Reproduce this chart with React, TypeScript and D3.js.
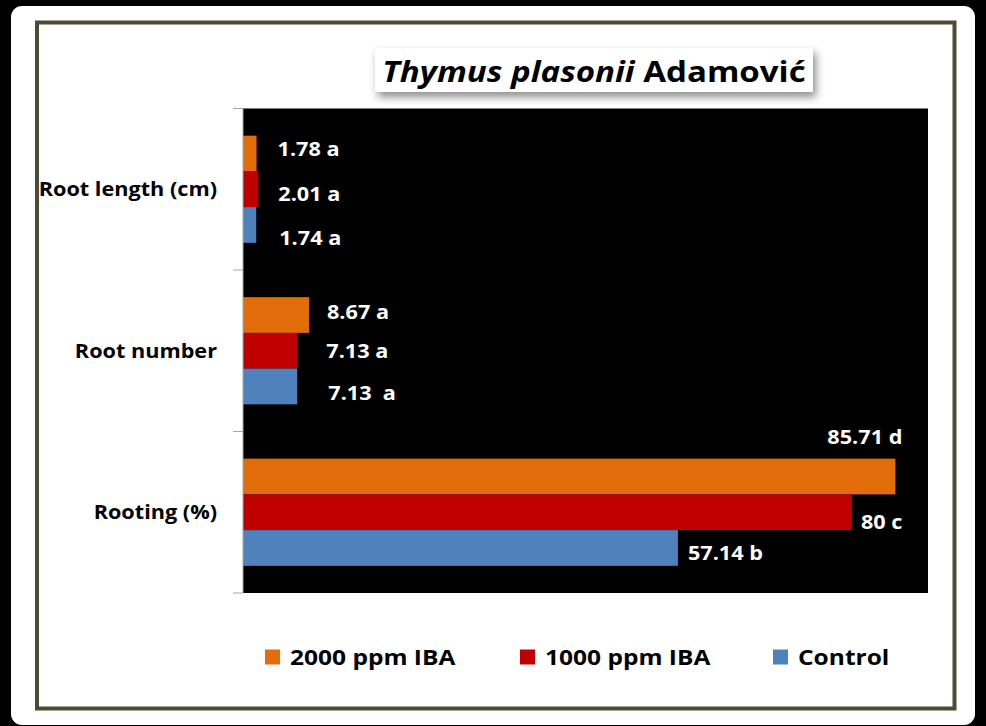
import React from "react";
import * as d3 from "d3";

// Chart content
const categories = ["Root length (cm)", "Root number", "Rooting (%)"];
const seriesNames = ["2000 ppm IBA", "1000 ppm IBA", "Control"];
const iba2000 = [1.78, 8.67, 85.71];
const iba1000 = [2.01, 7.13, 80];
const control = [1.74, 7.13, 57.14];
const letters2000 = ["a", "a", "d"];
const letters1000 = ["a", "a", "c"];
const lettersControl = ["a", " a", "b"];
const xDomain = [0, 90];

const seriesColors = ["#E36C0A", "#C00000", "#4F81BD"];

// Hand-placed label offsets [dx from bar end, dy from bar centre], per series per category
const labelNudge2000 = [[21, -4], [18, -3], [-68, -39]];
const labelNudge1000 = [[20, 5], [29, 0], [9, 10]];
const labelNudgeControl = [[23, 13], [31, 7], [10, 5]];

const W = 986;
const H = 726;
const FONT = "'Open Sans', 'DejaVu Sans', sans-serif";
const STRETCH = 1.14;

type TProps = {
  x: number;
  y: number;
  size: number;
  anchor?: "start" | "middle" | "end";
  fill?: string;
  children: React.ReactNode;
};

// Bold text with a slight horizontal stretch; y is the vertical centre of the caps
function SText({ x, y, size, anchor = "start", fill = "#000", children }: TProps) {
  return (
    <text
      transform={`translate(${x},${y + size * 0.357}) scale(${STRETCH},1)`}
      fontFamily={FONT}
      fontWeight={700}
      fontSize={size}
      textAnchor={anchor}
      fill={fill}
      style={{ whiteSpace: "pre" }}
    >
      {children}
    </text>
  );
}

export default function App() {
  const plot = { left: 243, right: 928, top: 108.5, bottom: 593 };

  const x = d3.scaleLinear().domain(xDomain).range([plot.left, plot.right]);
  const yCat = d3
    .scaleBand<string>()
    .domain(categories)
    .range([plot.top, plot.bottom])
    .paddingInner(0)
    .paddingOuter(0);
  const ySeries = d3
    .scaleBand<string>()
    .domain(seriesNames)
    .range([0, yCat.bandwidth()])
    .paddingInner(0)
    .paddingOuter(0.76);

  const values = [iba2000, iba1000, control];
  const letters = [letters2000, letters1000, lettersControl];
  const nudges = [labelNudge2000, labelNudge1000, labelNudgeControl];

  const tickYs = [...categories.map((c) => yCat(c) as number), plot.bottom];

  const legendX = [265, 520, 773];
  const legendY = 657;

  return (
    <svg
      width={W}
      height={H}
      viewBox={`0 0 ${W} ${H}`}
      style={{ position: "absolute", left: 0, top: 0, display: "block" }}
    >
      <defs>
        <filter id="titleShadow" x="-10%" y="-40%" width="125%" height="200%">
          <feDropShadow dx="3" dy="5" stdDeviation="4" floodColor="#000" floodOpacity="0.45" />
        </filter>
      </defs>

      {/* frame */}
      <rect x={0} y={0} width={W} height={H} fill="#000" />
      <rect x={11} y={6} width={964} height={719} rx={11} fill="#fff" />
      <rect x={37} y={22.5} width={917.5} height={686} fill="none" stroke="#4e4a36" strokeWidth={4} />

      {/* title */}
      <rect x={375} y={48} width={438} height={44} fill="#fff" filter="url(#titleShadow)" />
      <text
        transform={`translate(594,82) scale(${STRETCH},1)`}
        fontFamily={FONT}
        fontWeight={700}
        fontSize={29}
        textAnchor="middle"
        fill="#000"
      >
        <tspan fontStyle="italic">Thymus plasonii</tspan>
        <tspan> Adamović</tspan>
      </text>

      {/* plot area */}
      <rect
        x={plot.left}
        y={plot.top}
        width={plot.right - plot.left}
        height={plot.bottom - plot.top}
        fill="#000"
      />

      {/* bars */}
      {seriesNames.map((s, si) =>
        categories.map((c, ci) => (
          <rect
            key={`${s}-${c}`}
            x={x(0)}
            y={(yCat(c) as number) + (ySeries(s) as number)}
            width={x(values[si][ci]) - x(0)}
            height={ySeries.bandwidth()}
            fill={seriesColors[si]}
          />
        ))
      )}

      {/* value labels */}
      {seriesNames.map((s, si) =>
        categories.map((c, ci) => {
          const v = values[si][ci];
          const cy = (yCat(c) as number) + (ySeries(s) as number) + ySeries.bandwidth() / 2;
          const [dx, dy] = nudges[si][ci];
          return (
            <SText key={`lbl-${s}-${c}`} x={x(v) + dx} y={cy + dy} size={19} fill="#fff">
              {`${v} ${letters[si][ci]}`}
            </SText>
          );
        })
      )}

      {/* category axis */}
      <line x1={plot.left} x2={plot.left} y1={plot.top} y2={plot.bottom} stroke="#a6a6a6" strokeWidth={1} />
      {tickYs.map((ty, i) => (
        <line key={`tick-${i}`} x1={plot.left - 10} x2={plot.left} y1={ty} y2={ty} stroke="#a6a6a6" strokeWidth={1} />
      ))}
      {categories.map((c) => (
        <SText key={`cat-${c}`} x={217} y={(yCat(c) as number) + yCat.bandwidth() / 2} size={19} anchor="end">
          {c}
        </SText>
      ))}

      {/* legend */}
      {seriesNames.map((s, si) => (
        <g key={`leg-${s}`}>
          <rect x={legendX[si]} y={legendY - 7.5} width={15} height={15} fill={seriesColors[si]} />
          <SText x={legendX[si] + 25} y={legendY} size={21.5}>
            {s}
          </SText>
        </g>
      ))}
    </svg>
  );
}
